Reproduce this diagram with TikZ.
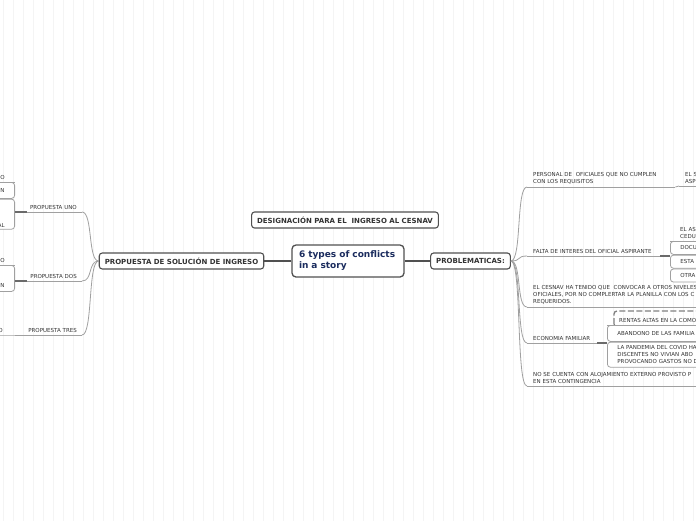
\documentclass[tikz,border=0pt]{standalone}
\usepackage{fontspec}
\setmainfont{DejaVu Sans}
\definecolor{gridgray}{HTML}{F4F4F4}
\definecolor{linegray}{HTML}{A0A0A0}
\definecolor{boxgray}{HTML}{505050}
\definecolor{txtgray}{HTML}{333333}
\definecolor{navy}{HTML}{1B2C5E}
\tikzset{
  maintopic/.style={draw=boxgray, line width=1.3pt, rounded corners=4pt, fill=white,
    align=left, text width=98pt, inner xsep=7pt, minimum height=32pt,
    font=\fontsize{9}{11}\selectfont\bfseries, text=navy},
  topic/.style={draw=boxgray, line width=1.1pt, rounded corners=3pt, fill=white,
    inner xsep=5.5pt, minimum height=16pt,
    font=\fontsize{7}{8}\selectfont\bfseries, text=txtgray},
  subtopic/.style={align=left, inner xsep=6pt, inner ysep=2.5pt,
    font=\fontsize{5.5}{7}\selectfont, text=txtgray},
  leaf/.style={draw=linegray, line width=0.8pt, rounded corners=3pt, fill=white,
    inner xsep=10pt, inner ysep=1.5pt, text width=60pt,
    font=\fontsize{5.5}{7}\selectfont, text=txtgray},
  uline/.style={draw=linegray, line width=0.8pt},
  branch/.style={draw=linegray, line width=0.8pt},
  link/.style={draw=boxgray, line width=1.2pt},
  joint/.style={draw=boxgray!85, line width=1.6pt},
  selbox/.style={draw=gray, line width=1.3pt, dash pattern=on 6pt off 2.5pt, rounded corners=3pt}
}
\begin{document}
\begin{tikzpicture}[x=1pt, y=-1pt]
  % Page and grid
  \useasboundingbox (0,0) rectangle (696,520);
  \clip (0,0) rectangle (696,520);
  \fill[white] (0,0) rectangle (696,520);
  \begin{scope}[shift={(3,5)}]
    \draw[gridgray, line width=0.5pt, step=10] (-10,-10) grid (700,520);
  \end{scope}

  % Central topic and main branches
  \node[maintopic] (story) at (348,261) {6 types of conflicts in a story};
  \node[topic] (design) at (345,220) {DESIGNACIÓN PARA EL\ \ INGRESO AL CESNAV};
  \node[topic] (sol) at (181.5,261) {PROPUESTA DE SOLUCIÓN DE INGRESO};
  \node[topic] (prob) at (470.5,261) {PROBLEMATICAS:};
  \draw[link] (story.west) -- (sol.east);
  \draw[link] (story.east) -- (prob.west);

  % Problematicas (right)
  \node[subtopic, anchor=south west, text width=136pt] (p1) at (527,187)
    {PERSONAL DE\ \ OFICIALES QUE NO CUMPLEN\\CON LOS REQUISITOS};
  \node[subtopic, anchor=south west, text width=121pt] (p2) at (527,256)
    {FALTA DE INTERES DEL OFICIAL ASPIRANTE};
  \node[subtopic, anchor=south west, text width=220pt] (p3) at (527,307)
    {EL CESNAV HA TENIDO QUE\ \ CONVOCAR A OTROS NIVELES\\OFICIALES, POR NO COMPLERTAR LA PLANILLA CON LOS C\\REQUERIDOS.};
  \node[subtopic, anchor=south west, text width=58pt] (p4) at (527,343)
    {ECONOMIA FAMILIAR};
  \node[subtopic, anchor=south west, text width=220pt] (p5) at (527,386)
    {NO SE CUENTA CON ALOJAMIENTO EXTERNO PROVISTO P\\EN ESTA CONTINGENCIA};
  \foreach \p in {p1,p2,p3,p4,p5} {
    \draw[uline] (\p.south west) -- (\p.south east);
    \draw[branch] (prob.east) .. controls +(11,0) and +(-11,0) .. (\p.south west);
  }

  % Personal -> next level
  \node[subtopic, anchor=south west, text width=60pt] (p1a) at (679,186) {EL S\\ASP};
  \draw[uline] (p1a.south west) -- (p1a.south east);
  \draw[branch] (p1.south east) -- (p1a.south west);

  % Falta de interes -> next level
  \node[subtopic, anchor=south west, inner xsep=10pt, text width=60pt] (f1) at (670,241) {EL AS\\CEDU};
  \node[leaf, anchor=north west, minimum height=13pt] (f2) at (670,241) {DOCU};
  \node[leaf, anchor=north west, minimum height=13pt] (f3) at (f2.south west) {ESTA};
  \node[leaf, anchor=north west, minimum height=13pt] (f4) at (f3.south west) {OTRA};
  \draw[uline] (f1.south west) -- (f1.south east);
  \draw[joint] (p2.south east) -- (p2.south east -| f3.west);

  % Economia familiar -> next level
  \node[subtopic, anchor=south west, inner xsep=12pt, text width=90pt] (e1) at (607,325) {RENTAS ALTAS EN LA COMO};
  \draw[selbox] (614,327) rectangle (740,311);
  \node[leaf, anchor=north west, minimum height=16pt, text width=90pt] (e2) at (607,325) {ABANDONO DE LAS FAMILIA};
  \node[leaf, anchor=north west, minimum height=25pt, text width=90pt] (e3) at (e2.south west)
    {LA PANDEMIA DEL COVID HA\\DISCENTES NO VIVIAN ABO\\PROVOCANDO GASTOS NO D};
  \draw[uline] (e1.south west) -- (e1.south east);
  \draw[joint] (p4.south east) -- (p4.south east -| e3.west);

  % Propuestas (left)
  \node[subtopic, anchor=south east, align=right, inner xsep=5pt, text width=55pt] (u0) at (82,212) {PROPUESTA UNO};
  \node[subtopic, anchor=south east, align=right, inner xsep=5pt, text width=55pt] (d0) at (82,281) {PROPUESTA DOS};
  \node[subtopic, anchor=south east, align=right, inner xsep=5pt, text width=57pt] (t0) at (82,335) {PROPUESTA TRES};
  \foreach \p in {u0,d0,t0} {
    \draw[uline] (\p.south west) -- (\p.south east);
    \draw[branch] (sol.west) .. controls +(-11,0) and +(11,0) .. (\p.south east);
  }

  % Propuesta uno -> next level
  \node[subtopic, anchor=south east, align=right, inner xsep=10pt, text width=40pt] (u1) at (15,182) {SO};
  \node[leaf, anchor=north east, align=right, text width=40pt, minimum height=16pt] (u2) at (15,182) {ÓN};
  \node[leaf, anchor=north east, align=right, text width=40pt, inner ysep=0pt,
    text height=28pt, text depth=2pt] (u3) at (u2.south east) {AL};
  \draw[uline] (u1.south west) -- (u1.south east);
  \draw[joint] (u0.south west -| u3.east) -- ++(12,0);

  % Propuesta dos -> next level
  \node[subtopic, anchor=south east, align=right, inner xsep=10pt, text width=40pt] (d1) at (15,265) {GO};
  \node[leaf, anchor=north east, align=right, text width=40pt, inner ysep=0pt,
    text height=22pt, text depth=4pt] (d2) at (15,265) {ÓN};
  \draw[uline] (d1.south west) -- (d1.south east);
  \draw[joint] (d0.south west -| d2.east) -- ++(12,0);

  % Propuesta tres -> next level
  \node[subtopic, anchor=south east, align=right, inner xsep=12pt, text width=40pt] (t1) at (15,335) {O};
  \draw[uline] (t1.south west) -- (t1.south east) -- (t0.south west);
\end{tikzpicture}
\end{document}
